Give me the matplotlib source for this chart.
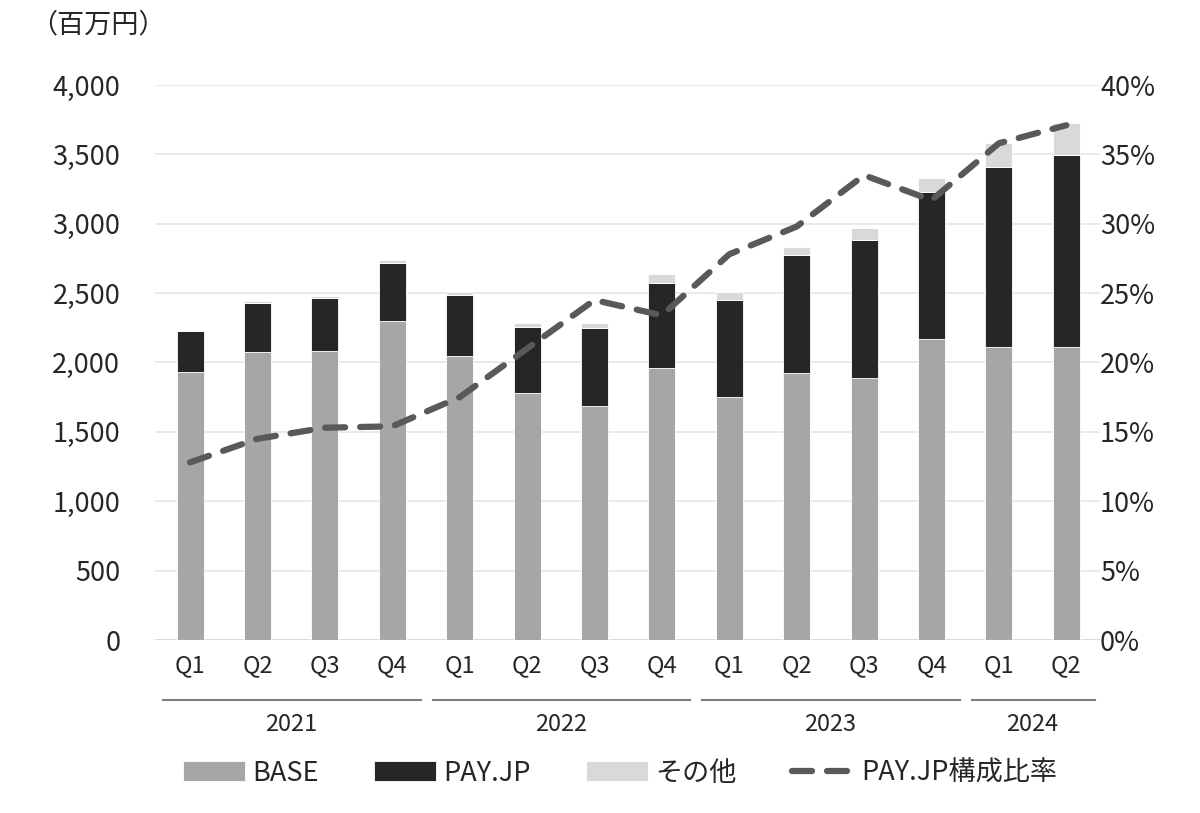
import numpy as np
import matplotlib.pyplot as plt
import matplotlib.transforms as mtransforms

plt.rcParams['font.family'] = ['Noto Sans CJK JP', 'DejaVu Sans']

# データ（百万円）
quarters = ['Q1', 'Q2', 'Q3', 'Q4', 'Q1', 'Q2', 'Q3', 'Q4', 'Q1', 'Q2', 'Q3', 'Q4', 'Q1', 'Q2']
years = ['2021', '2022', '2023', '2024']
year_span = [(0, 3), (4, 7), (8, 11), (12, 13)]
base = [1935, 2075, 2080, 2300, 2045, 1780, 1690, 1960, 1750, 1925, 1890, 2170, 2110, 2110]
payjp = [290, 355, 385, 420, 440, 475, 560, 615, 700, 850, 995, 1060, 1300, 1385]
other = [8, 10, 14, 20, 22, 28, 35, 60, 58, 60, 84, 100, 172, 232]
ratio = [12.8, 14.5, 15.3, 15.4, 17.5, 21.0, 24.5, 23.4, 27.8, 29.8, 33.5, 31.7, 35.8, 37.1]

x = np.arange(len(quarters))
base = np.array(base)
payjp = np.array(payjp)
other = np.array(other)

fig = plt.figure(figsize=(12, 8.13), dpi=100)
ax = fig.add_axes([155/1200, 1-640/813, 945/1200, 555/813])

w = 0.4
ax.bar(x, base, w, color='#a6a6a6', edgecolor='white', linewidth=0.6, label='BASE', zorder=2)
ax.bar(x, payjp, w, bottom=base, color='#262626', edgecolor='white', linewidth=0.6, label='PAY.JP', zorder=2)
ax.bar(x, other, w, bottom=base+payjp, color='#d9d9d9', edgecolor='white', linewidth=0.6, label='その他', zorder=2)

ax.set_xlim(-0.52, 13.5)
ax.set_ylim(0, 4000)
ax.set_yticks(np.arange(0, 4001, 500))
ax.set_yticklabels([f'{v:,}' for v in range(0, 4001, 500)], fontsize=19.5, color='#262626')
ax.yaxis.grid(True, color='#e6e6e6', linewidth=1.2, zorder=0)
ax.set_axisbelow(True)
for s in ax.spines.values():
    s.set_visible(False)
ax.tick_params(axis='both', length=0)
ax.tick_params(axis='y', pad=25)
ax.set_xticks(x)
ax.set_xticklabels(quarters, fontsize=17, color='#262626')
ax.tick_params(axis='x', pad=10)
ax.axhline(0, color='#d9d9d9', linewidth=1.2, zorder=1)

ax2 = ax.twinx()
ln, = ax2.plot(x, ratio, color='#595959', linewidth=4.5, linestyle=(0, (3.2, 2.4)),
               dash_capstyle='round', solid_capstyle='round', label='PAY.JP構成比率', zorder=3)
ax2.set_ylim(0, 40)
ax2.set_yticks(np.arange(0, 41, 5))
ax2.set_yticklabels([f'{v}%' for v in range(0, 41, 5)], fontsize=19.5, color='#262626')
ax2.tick_params(axis='y', length=0, pad=0)
for s in ax2.spines.values():
    s.set_visible(False)

# 年の区切り線とラベル
trans = mtransforms.blended_transform_factory(ax.transData, ax.transAxes)
for yr, (a, b) in zip(years, year_span):
    ax.plot([a-0.4, b+0.42], [-0.108, -0.108], color='#7f7f7f', linewidth=1.5,
            transform=trans, clip_on=False)
    ax.text((a+b)/2, -0.152, yr, transform=trans, ha='center', va='center',
            fontsize=17, color='#262626')

fig.text(30/1200, 1-25/813, '（百万円）', fontsize=19.5, color='#262626', va='center', ha='left')

h1, l1 = ax.get_legend_handles_labels()
fig.legend(h1 + [ln], l1 + ['PAY.JP構成比率'], loc='center', bbox_to_anchor=(620/1200, 1-773/813),
           ncol=4, frameon=False, fontsize=19.5, handlelength=2.3, handleheight=0.8,
           columnspacing=2.05, handletextpad=0.25, labelcolor='#262626')

fig.savefig('out.png', dpi=100)
